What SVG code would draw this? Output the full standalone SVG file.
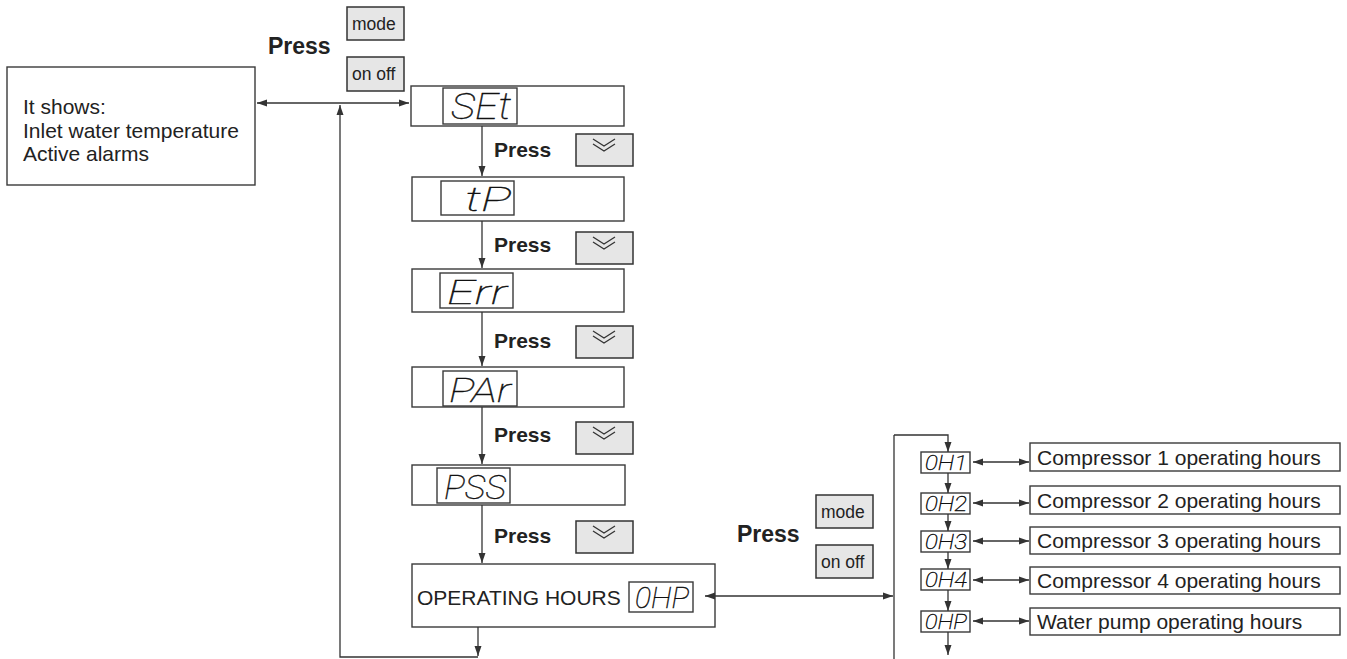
<svg xmlns="http://www.w3.org/2000/svg" width="1347" height="659" viewBox="0 0 1347 659">
<style>
.box{fill:#fff;stroke:#3a3a3a;stroke-width:1.4}
.disp{fill:#fff;stroke:#3a3a3a;stroke-width:1.4}
.btn{fill:#e6e6e6;stroke:#333;stroke-width:1.5}
.t{font-family:"Liberation Sans",Arial,sans-serif;font-size:21px;fill:#222}
.press{font-family:"Liberation Sans",Arial,sans-serif;font-size:21px;font-weight:bold;fill:#222}
.big{font-size:23px}
.bt{font-family:"Liberation Sans",Arial,sans-serif;font-size:17.5px;fill:#222}
.seg{font-family:Roboto,"DejaVu Sans",sans-serif;font-weight:100;font-style:italic;fill:#111;stroke:#111;stroke-width:0.4}
.ln{fill:none;stroke:#333;stroke-width:1.3}
.chev{fill:none;stroke:#333;stroke-width:1.3}
</style>
<defs>
<marker id="ah" markerUnits="userSpaceOnUse" markerWidth="10" markerHeight="8" refX="10" refY="4" orient="auto-start-reverse">
<path d="M0,0.5 L10,4 L0,7.5 z" fill="#333"/>
</marker>
<g id="down">
<rect class="btn" x="0" y="0" width="57" height="32"/>
<polyline class="chev" points="17,5 28,12 39,5"/>
<polyline class="chev" points="17,10 28,17 39,10"/>
</g>
</defs>

<g id="info">
<rect class="box" x="7" y="67" width="248" height="118"/>
<text class="t" x="23" y="114">It shows:</text>
<text class="t" x="23" y="137.5">Inlet water temperature</text>
<text class="t" x="23" y="161">Active alarms</text>
</g>

<g id="press-top">
<text class="press big" x="268" y="54">Press</text>
<rect class="btn" x="347" y="7" width="57" height="33"/>
<text class="bt" x="352" y="30">mode</text>
<rect class="btn" x="347" y="57" width="57" height="34"/>
<text class="bt" x="352" y="80">on off</text>
</g>

<g id="set">
<rect class="box" x="411" y="86" width="213" height="40"/>
<rect class="disp" x="443" y="88" width="74" height="36"/>
<text class="seg" x="451" y="119" font-size="36" textLength="60" lengthAdjust="spacingAndGlyphs">SEt</text>
</g>
<g id="press1"><text class="press" x="494" y="157">Press</text><use href="#down" x="576" y="134"/></g>

<g id="tp">
<rect class="box" x="412" y="177" width="212" height="44"/>
<rect class="disp" x="441" y="181" width="73" height="34"/>
<text class="seg" x="465" y="211" font-size="34" textLength="46" lengthAdjust="spacingAndGlyphs">tP</text>
</g>
<g id="press2"><text class="press" x="494" y="252">Press</text><use href="#down" x="576" y="232"/></g>

<g id="err">
<rect class="box" x="412" y="269" width="212" height="43"/>
<rect class="disp" x="440" y="273" width="73" height="35"/>
<text class="seg" x="447" y="304" font-size="34" textLength="60" lengthAdjust="spacingAndGlyphs">Err</text>
</g>
<g id="press3"><text class="press" x="494" y="348">Press</text><use href="#down" x="576" y="326"/></g>

<g id="par">
<rect class="box" x="412" y="367" width="212" height="40"/>
<rect class="disp" x="443" y="371" width="74" height="35"/>
<text class="seg" x="449" y="402" font-size="34" textLength="62" lengthAdjust="spacingAndGlyphs">PAr</text>
</g>
<g id="press4"><text class="press" x="494" y="442">Press</text><use href="#down" x="576" y="422"/></g>

<g id="pss">
<rect class="box" x="412" y="465" width="213" height="40"/>
<rect class="disp" x="437" y="468" width="73" height="35"/>
<text class="seg" x="444" y="499" font-size="34" textLength="62" lengthAdjust="spacingAndGlyphs">PSS</text>
</g>
<g id="press5"><text class="press" x="494" y="543">Press</text><use href="#down" x="576" y="521"/></g>

<g id="ohp">
<rect class="box" x="412" y="564" width="303" height="63"/>
<text class="t" x="417" y="605">OPERATING HOURS</text>
<rect class="disp" x="629" y="582" width="64" height="30"/>
<text class="seg" x="635" y="608" font-size="29" textLength="54" lengthAdjust="spacingAndGlyphs">0HP</text>
</g>

<g id="press-right">
<text class="press big" x="737" y="542">Press</text>
<rect class="btn" x="816" y="495" width="57" height="33"/>
<text class="bt" x="821" y="518">mode</text>
<rect class="btn" x="816" y="545" width="57" height="33"/>
<text class="bt" x="821" y="568">on off</text>
</g>

<g id="oh1">
<rect class="disp" x="921" y="452" width="49" height="21"/>
<text class="seg" x="925" y="470" font-size="20" textLength="42" lengthAdjust="spacingAndGlyphs">0H1</text>
<rect class="box" x="1030" y="443" width="310" height="28"/>
<text class="t" x="1037" y="465">Compressor 1 operating hours</text>
</g>
<g id="oh2">
<rect class="disp" x="921" y="493" width="49" height="21"/>
<text class="seg" x="925" y="511" font-size="20" textLength="42" lengthAdjust="spacingAndGlyphs">0H2</text>
<rect class="box" x="1030" y="486" width="310" height="28"/>
<text class="t" x="1037" y="508">Compressor 2 operating hours</text>
</g>
<g id="oh3">
<rect class="disp" x="921" y="531" width="49" height="21"/>
<text class="seg" x="925" y="549" font-size="20" textLength="42" lengthAdjust="spacingAndGlyphs">0H3</text>
<rect class="box" x="1030" y="527" width="310" height="27"/>
<text class="t" x="1037" y="548">Compressor 3 operating hours</text>
</g>
<g id="oh4">
<rect class="disp" x="921" y="569" width="49" height="21"/>
<text class="seg" x="925" y="587" font-size="20" textLength="42" lengthAdjust="spacingAndGlyphs">0H4</text>
<rect class="box" x="1030" y="567" width="310" height="27"/>
<text class="t" x="1037" y="588">Compressor 4 operating hours</text>
</g>
<g id="oh5">
<rect class="disp" x="921" y="611" width="49" height="21"/>
<text class="seg" x="925" y="629" font-size="20" textLength="42" lengthAdjust="spacingAndGlyphs">0HP</text>
<rect class="box" x="1030" y="608" width="310" height="27"/>
<text class="t" x="1037" y="629">Water pump operating hours</text>
</g>

<g id="connectors">
<line class="ln" x1="257" y1="103" x2="409" y2="103" marker-start="url(#ah)" marker-end="url(#ah)"/>
<polyline class="ln" points="478,657 340,657 340,105" marker-end="url(#ah)"/>
<line class="ln" x1="478" y1="627" x2="478" y2="656" marker-end="url(#ah)"/>
<line class="ln" x1="482" y1="126" x2="482" y2="176" marker-end="url(#ah)"/>
<line class="ln" x1="482" y1="221" x2="482" y2="268" marker-end="url(#ah)"/>
<line class="ln" x1="482" y1="312" x2="482" y2="366" marker-end="url(#ah)"/>
<line class="ln" x1="482" y1="407" x2="482" y2="464" marker-end="url(#ah)"/>
<line class="ln" x1="482" y1="505" x2="482" y2="563" marker-end="url(#ah)"/>
<line class="ln" x1="705" y1="596" x2="893" y2="596" marker-start="url(#ah)" marker-end="url(#ah)"/>
<line class="ln" x1="894" y1="659" x2="894" y2="435"/>
<polyline class="ln" points="894,435 948,435 948,452" marker-end="url(#ah)"/>
<line class="ln" x1="948" y1="473" x2="948" y2="493" marker-end="url(#ah)"/>
<line class="ln" x1="948" y1="514" x2="948" y2="531" marker-end="url(#ah)"/>
<line class="ln" x1="948" y1="552" x2="948" y2="569" marker-end="url(#ah)"/>
<line class="ln" x1="948" y1="590" x2="948" y2="611" marker-end="url(#ah)"/>
<line class="ln" x1="948" y1="632" x2="948" y2="655" marker-end="url(#ah)"/>
<line class="ln" x1="973" y1="462" x2="1029" y2="462" marker-start="url(#ah)" marker-end="url(#ah)"/>
<line class="ln" x1="973" y1="503" x2="1029" y2="503" marker-start="url(#ah)" marker-end="url(#ah)"/>
<line class="ln" x1="973" y1="541" x2="1029" y2="541" marker-start="url(#ah)" marker-end="url(#ah)"/>
<line class="ln" x1="973" y1="580" x2="1029" y2="580" marker-start="url(#ah)" marker-end="url(#ah)"/>
<line class="ln" x1="973" y1="621" x2="1029" y2="621" marker-start="url(#ah)" marker-end="url(#ah)"/>
</g>
</svg>
